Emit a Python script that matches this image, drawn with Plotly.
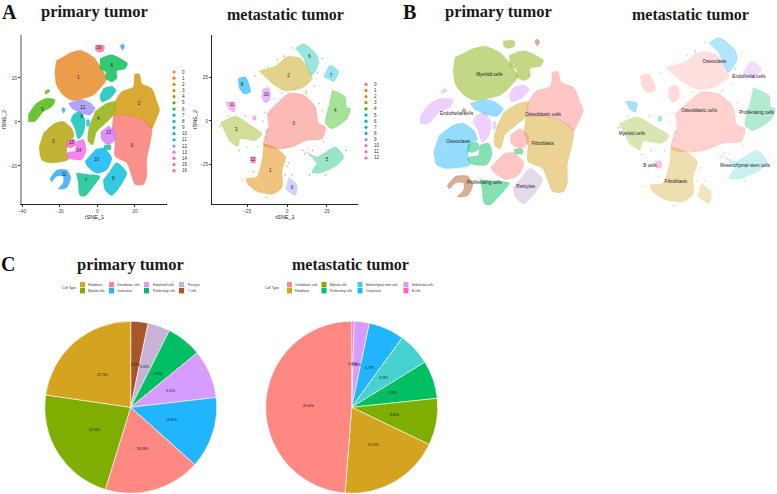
import math
import plotly.graph_objects as go

W, H = 777, 494

# ---- t-SNE cluster outlines (tSNE_1, tSNE_2) ----
p0 = [(8.5,3.2),(15.6,3.2),(24.5,0.9),(28.9,-2.9),(28,-9.6),(26.2,-17.1),(26.2,-24.7),(24.5,-28.4),(20,-28.4),(18.3,-24.7),(15.6,-18.6),(9.4,-15.6),(9.4,-8.9),(7.6,-3.6)]
p1 = [(-15.4,31),(-9.2,32.5),(-2.1,29.5),(2.3,24.2),(5,19.7),(1.4,15.2),(-2.1,12.2),(-7.4,10.7),(-13.7,9.9),(-18.1,12.2),(-21.6,16.7),(-22.5,22.7),(-21.6,28)]
p2 = [(9.4,9.2),(12.9,13.7),(19.1,15.9),(20,21.7),(22.3,21.7),(23.6,17.4),(28.9,15.2),(31.6,9.2),(33,5.4),(30.7,0.2),(28.9,-2.9),(24.5,0.9),(15.6,3.2),(8.5,3.2)]
p3 = [(-28.7,-5.1),(-22.5,-0.6),(-18.1,0.2),(-13.7,-2.9),(-12.4,-6.6),(-15.4,-8.9),(-16.3,-14.1),(-15.4,-17.1),(-25.2,-18.6),(-29.6,-17.1),(-30.9,-11.1)]
p4 = [(-1.2,4.7),(5,8.4),(9.4,9.2),(8.5,3.2),(3.2,-1.4),(-0.4,-4.4),(-2.5,-10.4),(-4.8,-8.9),(-4.8,-4.4),(-3,0.9)]
p5 = [(-36.7,3.2),(-32.4,8.4),(-27,10.7),(-22.5,9.9),(-24.3,6.9),(-28.7,4.7),(-33.2,0.2),(-36.7,0.2),None,(-28,13.5),(-26,14.8),(-25.3,13.8),(-27.5,12.6)]
p6 = [(1.4,28.7),(7.6,30.5),(13.8,28),(16,26.5),(14.8,24.2),(10.3,23.2),(10.3,19.7),(7.6,18.2),(4.6,19.7),(4.6,22.7),(1.4,24.2)]
p7 = [(-11.3,-23.2),(-4.8,-23.9),(1.4,-24.7),(-2.1,-29.2),(-6.6,-33.7),(-9.2,-33.4),(-10.1,-27.7),None,(3.5,-10.6),(7,-10.6),(7,-12.6),(3.5,-12.3)]
p8 = [(3.2,15.2),(7.6,16.2),(9.9,14.4),(6.7,10.7),(2.3,9.2),(1.4,12.2),None,(-13.1,3.2),(-9.2,4.7),(-6.6,0.9),(-7.4,-5.1),(-10.1,-7.8),(-11.9,-2.9),(-14.2,0.9)]
p9 = [(6.7,-22.4),(10.3,-18.6),(15.6,-23.2),(12.1,-29.2),(7.6,-33.4),(4,-30.7),(3.2,-26.2),None,(-5.8,0.9),(-4.4,0.9),(-4.4,-1.9),(-5.8,-1.9)]
p10 = [(-1.2,-12.6),(3.2,-11.9),(7.6,-16.4),(5,-21.7),(-0.4,-23.2),(-5.3,-20.1),(-6.6,-17.9)]
p11 = [(-25.2,-26),(-21.6,-22),(-16.3,-21.9),(-14.2,-25.4),(-16.3,-29.9),(-20.7,-30.4),(-18.1,-27.7),(-18.1,-24.7),(-21.6,-24.7),(-24.3,-27.4),None,(12.1,34.3),(13.3,35.5),(14.4,34.3),(13.3,32.5),None,(-19,5.6),(-18,6.6),(-17,5.6),(-18,3.8)]
p12 = [(-15.4,8.4),(-9.2,10.2),(-4.8,9.2),(-1.2,6.2),(-3.9,3.2),(-8.3,3.9),(-13.7,6.2)]
p13 = [(5.9,-1.8),(9.4,-4.4),(9.4,-8.1),(5.9,-10.4),(2.3,-8.1),(2,-4.4)]
p14 = [(-11,-8.9),(-7.4,-8.1),(-6,-12.6),(-8.3,-17.1),(-15.4,-16.4),(-16.3,-14.1),(-11.9,-13.4)]
p15 = [(-16.3,-8.9),(-12.4,-7.8),(-11.3,-10.4),(-14.5,-11.9),(-16.7,-11.1)]
p16 = [(-1.2,34.7),(3.5,34.7),(3.5,32.5),(0.7,31.7),(-1.2,32.8)]

m0 = [(-12.5,4.2),(-6.3,10),(1,15.7),(10.4,14.8),(17.7,8),(19.8,-1.5),(24,-3.4),(21.9,-10.2),(12.5,-11.1),(3.1,-14.9),(-6.3,-15.9),(-14.6,-14),(-11.5,-3.4)]
m1 = [(-14.6,-13),(-6.3,-15.9),(-1,-20.7),(-3.1,-28.4),(-3.1,-37.9),(-8.3,-41.8),(-17.7,-40.8),(-24.6,-36),(-25.4,-33.1),(-18.8,-32.2),(-15.6,-22.6)]
m2 = [(-17.7,28.7),(-7.3,31.4),(0,36.8),(8.3,35.9),(15.6,24.3),(8.3,18.6),(-2.1,17.6),(-10.4,22.4)]
m3 = [(-41.7,-1.1),(-32.3,2.7),(-22.9,-2.5),(-15.6,-7.3),(-19.8,-11.1),(-29.2,-10.2),(-30.8,-14.6),(-36.5,-11.1)]
m4 = [(28.1,18),(36.5,13.8),(37.1,8),(39.6,7.1),(37.5,1.3),(28.1,-4.4),(24,-1.5),(26,8)]
m5 = [(12.5,-17.8),(18.8,-20.7),(30.2,-15),(35.4,-20.7),(31.3,-25.5),(20.8,-29.9),(15.6,-29.5),(18.8,-24.5)]
m6 = [(5.2,41.6),(10.4,44.4),(18.8,37.7),(19.8,33),(15.6,26.2),(10.4,35.9)]
m7 = [(22.9,25.3),(27.1,32),(32.3,28.2),(29.2,22.4)]
m8 = [(-30.6,24.3),(-26,25.3),(-22.9,16.7),(-27.1,15.7),(-30.2,19.5)]
m9 = [(1,-32.2),(6.3,-37),(5.2,-42.7),(-1,-38.9)]
m10 = [(-15.6,18),(-11.5,19.2),(-10.4,12.8),(-13.5,10.3),(-16,13.8)]
m11 = [(-38.5,10.9),(-32.3,10),(-33.3,5.2),(-36.5,7.1),None,(-21.5,2.8),(-19.5,2.8),(-19.5,0.6),(-21.5,0.6)]
m12 = [(-22.9,-20.7),(-19.8,-20.7),(-19.8,-24.1),(-22.5,-24.1)]

primary_clusters = [p0,p1,p2,p3,p4,p5,p6,p7,p8,p9,p10,p11,p12,p13,p14,p15,p16]
meta_clusters = [m0,m1,m2,m3,m4,m5,m6,m7,m8,m9,m10,m11,m12]

# stray cells: (tSNE_1, tSNE_2), one list per cluster
meta_stray_0 = [(12,-18),(14,-20),(13,-16),(16,-17),(11,-19),(20,10),(22,6),(-14,5),(-15,0),(-13,-6),(5,18),(12,17),(23,-12),(-8,13)]
meta_stray_1 = [(-2,-15),(0,-26),(1,-24),(-1,-31),(-28,-34),(3,-31),(-13,-44),(-21,-29),(-18,-15)]
meta_stray_2 = [(-20,26),(-6,35),(-2,38),(12,16),(17,20),(-3,16),(-12,31)]
meta_stray_3 = [(-42,-3),(-13,-9),(-12,-5),(-25,-15),(-30,-17),(-37,3),(-26,3)]
meta_stray_5 = [(10,-17),(37,-17),(24,-31),(14,-31)]
meta_stray_6 = [(22,36),(3,42),(19,28),(-2,37)]
meta_strays = {0:meta_stray_0, 1:meta_stray_1, 2:meta_stray_2, 3:meta_stray_3, 5:meta_stray_5, 6:meta_stray_6}

primary_hue = ["#F8766D","#E7851E","#D09400","#B2A100","#89AC00","#45B500","#00BC51","#00C087","#00C0B2","#00BCD6","#00B3F2","#29A3FF","#9C8DFF","#D277FF","#F166E8","#FF61C7","#FF689E"]
meta_hue = ["#F8766D","#E18A00","#BE9C00","#8CAB00","#24B700","#00BE70","#00C1AB","#00BBDA","#00ACFC","#8B93FF","#D575FE","#F962DD","#FF65AC"]

primary_label_x = [18.4,-10.1,22.2,-23.4,0.5,-29.1,7.6,-6,-8.3,8.5,-0.4,-17.7,-7.8,5.9,-9.8,-13.7,0.7]
primary_label_y = [-11.1,20.2,8.4,-8.9,1.2,5.7,25.3,-26.6,2.1,-25.7,-17.1,-23.9,6.6,-5.1,-13.1,-9.3,33.5]
meta_label_x = [4.2,-10.4,1,-31.7,30.2,25,14,27.5,-28.1,3.1,-12.9,-34.4,-21.5]
meta_label_y = [-1.9,-28.4,26.2,-5,5.7,-22.2,36.8,25.7,20.9,-38.3,14.8,9,-22.2]

# ---- cell types ----
FIB, MYE, OBL, OCL, END, PRO, PER, TCL, MSC, BCL = ("Fibroblasts","Myeloid cells","Osteoblastic cells","Osteoclasts","Endothelial cells","Proliferating cells","Pericytes","T cells","Mesenchymal stem cells","B cells")
type_color = {FIB:"#D4A421",MYE:"#7FAE00",OBL:"#FF8883",OCL:"#22B5FF",END:"#D79CFF",PRO:"#00BF63",PER:"#C9B2D8",TCL:"#A9572A",MSC:"#48D1D1",BCL:"#FF61C3"}

primary_cluster_type = [FIB,MYE,OBL,OCL,FIB,END,MYE,PRO,END,PER,OBL,TCL,OCL,OBL,PRO,PRO,MYE]
meta_cluster_type = [OBL,FIB,OBL,MYE,PRO,MSC,OCL,END,OBL,FIB,OBL,OCL,BCL]

b_primary_names = [MYE,END,OBL,FIB,OCL,PRO,PER]
b_primary_x = [-7.1,-21.1,15.9,15.7,-20.4,-9.3,8.4]
b_primary_y = [20.5,4.1,3.8,-8.4,-7.7,-24.8,-26.5]
b_meta_names = [OCL,END,OBL,PRO,MYE,BCL,MSC,FIB]
b_meta_x = [8,26,0,30,-35,-25.5,24,-12.1]
b_meta_y = [31.7,23.8,5.8,4.6,-6,-23,-23,-31.4]

# ---- pies ----
primary_types = [TCL,PER,PRO,END,OCL,OBL,MYE,FIB]
primary_share = [3.27,4.16,6.66,9.12,13.45,18.18,22.55,22.73]
meta_types = [BCL,END,OCL,MSC,PRO,MYE,FIB,OBL]
meta_share = [0.46,2.86,6.72,6.23,7.18,8.84,19.19,49.00]
primary_legend = [FIB,MYE,OBL,OCL,END,PRO,PER,TCL]
meta_legend = [OBL,FIB,MYE,PRO,MSC,OCL,END,BCL]


def fx(px): return px / W
def fy(py): return 1 - py / H
def rgba(c, a):
    return f"rgba({int(c[1:3],16)},{int(c[3:5],16)},{int(c[5:7],16)},{a})"
def xs(pts): return [None if p is None else p[0] for p in pts]
def ys(pts): return [None if p is None else p[1] for p in pts]

fig = go.Figure()

def blobs(clusters, colors, alphas, xa, ya):
    for i, pts in enumerate(clusters):
        a = alphas[i] if isinstance(alphas, list) else alphas
        fig.add_trace(go.Scatter(x=xs(pts), y=ys(pts), mode="lines", fill="toself", fillcolor=rgba(colors[i], a),
                                 line=dict(width=0.8, color=rgba(colors[i], a*0.6), shape="spline", smoothing=0.7),
                                 xaxis=xa, yaxis=ya, showlegend=False, hoverinfo="skip"))

def strays(colors, xa, ya, alpha):
    for i, pts in meta_strays.items():
        fig.add_trace(go.Scatter(x=xs(pts), y=ys(pts), mode="markers", marker=dict(size=1.4, color=rgba(colors[i], alpha), line=dict(width=0)),
                                 xaxis=xa, yaxis=ya, showlegend=False, hoverinfo="skip"))

def labels(tx, ty, text, xa, ya, size):
    fig.add_trace(go.Scatter(x=tx, y=ty, text=text, mode="text", textfont=dict(size=size, color="#222", family="Liberation Sans"),
                             xaxis=xa, yaxis=ya, showlegend=False, hoverinfo="skip"))

blobs(primary_clusters, primary_hue, 0.8, "x", "y")
labels(primary_label_x, primary_label_y, [str(i) for i in range(17)], "x", "y", 4.5)
blobs(meta_clusters, meta_hue, [0.5,0.5,0.45,0.4,0.4,0.4,0.4,0.4,0.6,0.4,0.5,0.5,0.7], "x2", "y2")
strays(meta_hue, "x2", "y2", 0.8)
labels(meta_label_x, meta_label_y, [str(i) for i in range(13)], "x2", "y2", 4.5)
blobs(primary_clusters, [type_color[t] for t in primary_cluster_type], 0.48, "x3", "y3")
labels(b_primary_x, b_primary_y, b_primary_names, "x3", "y3", 4.6)
meta_type_colors = [type_color[t] for t in meta_cluster_type]
blobs(meta_clusters, meta_type_colors, [0.38,0.36,0.26,0.3,0.3,0.3,0.35,0.35,0.3,0.3,0.3,0.4,0.4], "x4", "y4")
strays(meta_type_colors, "x4", "y4", 0.6)
labels(b_meta_x, b_meta_y, b_meta_names, "x4", "y4", 4.6)

def pie(types, share, cx, cy, r):
    fig.add_trace(go.Pie(labels=types, values=share, sort=False, direction="clockwise", rotation=0,
                         marker=dict(colors=[type_color[t] for t in types], line=dict(color="white", width=0.6)),
                         textinfo="none", hoverinfo="skip", showlegend=False,
                         domain=dict(x=[fx(cx-r), fx(cx+r)], y=[fy(cy+r), fy(cy-r)])))

PIE_R = 86
pie(primary_types, primary_share, 130.7, 407.3, PIE_R)
pie(meta_types, meta_share, 351.7, 407.3, PIE_R)

ann, shapes = [], []

def note(px, py, text, size, family="Liberation Sans", color="#222", bold=False, xanchor="center", angle=0):
    ann.append(dict(x=fx(px), y=fy(py), xref="paper", yref="paper", text=f"<b>{text}</b>" if bold else text, showarrow=False,
                    font=dict(size=size, family=family, color=color), xanchor=xanchor, yanchor="middle", textangle=angle, borderpad=0))

def pie_text(share, cx, cy):
    total = sum(share); run = 0
    for v in share:
        a = math.radians((run + v/2) / total * 360)
        note(cx + 0.5*PIE_R*math.sin(a), cy - 0.5*PIE_R*math.cos(a), f"{v:.2f}%", 3.2, color="#111")
        run += v
pie_text(primary_share, 130.7, 407.3)
pie_text(meta_share, 351.7, 407.3)

SERIF = "Liberation Serif"
for px, py, t, s in [(94,11,"primary tumor",16.5),(285.5,14,"metastatic tumor",16),(498,11,"primary tumor",16.5),(690,14,"metastatic tumor",16),(130,264,"primary tumor",16.5),(350.5,264,"metastatic tumor",16)]:
    note(px, py, t, s, family=SERIF, color="#1a1a1a", bold=True)
for px, py, t in [(9.5,12,"A"),(409,12,"B"),(8,264,"C")]:
    note(px, py, t, 20, family=SERIF, color="#111", bold=True)

# cluster legends
def cluster_legend(colors, dot_x, text_x, y0, step):
    for i, c in enumerate(colors):
        y = y0 + i*step
        shapes.append(dict(type="circle", xref="paper", yref="paper", x0=fx(dot_x-1.6), x1=fx(dot_x+1.6), y0=fy(y+1.6), y1=fy(y-1.6), fillcolor=c, line=dict(width=0)))
        note(text_x, y, str(i), 4.6, xanchor="left", color="#333")
cluster_legend(primary_hue, 174, 180.5, 72, 6.17)
cluster_legend(meta_hue, 366, 373, 84.3, 6.14)

# pie legends
def type_legend(order, title_x, columns):
    note(title_x, 288, "Cell Type", 3.4, color="#333")
    for j, (sw, tx) in enumerate(columns):
        for k in range(2):
            t = order[2*j + k]
            y = 284.7 + 6*k
            shapes.append(dict(type="rect", xref="paper", yref="paper", x0=fx(sw), x1=fx(sw+5), y0=fy(y+2.7), y1=fy(y-2.7), fillcolor=type_color[t], line=dict(width=0)))
            note(tx, y, t, 2.9, xanchor="left", color="#333")
type_legend(primary_legend, 69, [(80,87.3),(109,116),(144,152),(179,187)])
type_legend(meta_legend, 271.5, [(287,294),(321.5,329),(357.5,365),(403.5,411)])

tick = dict(ticks="outside", ticklen=2, tickwidth=0.6, tickcolor="#333", tickfont=dict(size=4.8, family="Liberation Sans", color="#444"), showline=True, title_font=dict(size=5.6, family="Liberation Sans", color="#222"), title_standoff=2)

fig.update_layout(
    width=W, height=H, margin=dict(l=0, r=0, t=0, b=0, autoexpand=False), paper_bgcolor="white", plot_bgcolor="white", showlegend=False,
    xaxis=dict(domain=[fx(22), fx(167)], range=[-40,37], tickvals=[-40,-20,0,20], title_text="tSNE_1", anchor="y", linecolor="#222", linewidth=0.7, zeroline=False, showgrid=False, **tick),
    yaxis=dict(domain=[fy(204), fy(35)], range=[-37.3,39.5], tickvals=[-20,0,20], title_text="tSNE_2", anchor="x", linecolor="#aaa", linewidth=1.8, zeroline=False, showgrid=False, **tick),
    xaxis2=dict(domain=[fx(212), fx(358)], range=[-46.9,44.4], tickvals=[-25,0,25], title_text="tSNE_1", anchor="y2", linecolor="#222", linewidth=0.7, zeroline=False, showgrid=False, **tick),
    yaxis2=dict(domain=[fy(204), fy(35)], range=[-47.7,49.4], tickvals=[-25,0,25], title_text="tSNE_2", anchor="x2", linecolor="#222", linewidth=0.7, zeroline=False, showgrid=False, **tick),
    xaxis3=dict(domain=[fx(400), fx(600)], range=[-45.3,40.2], visible=False, anchor="y3"),
    yaxis3=dict(domain=[fy(215), fy(30)], range=[-38.1,39.3], visible=False, anchor="x3"),
    xaxis4=dict(domain=[fx(610), fx(777)], range=[-46.4,40.6], visible=False, anchor="y4"),
    yaxis4=dict(domain=[fy(215), fy(30)], range=[-48.9,48.4], visible=False, anchor="x4"),
    annotations=ann, shapes=shapes,
)
fig.write_html("out.html", config={"displayModeBar": False}, post_script="document.body.style.margin='0';document.documentElement.style.overflow='hidden';")
